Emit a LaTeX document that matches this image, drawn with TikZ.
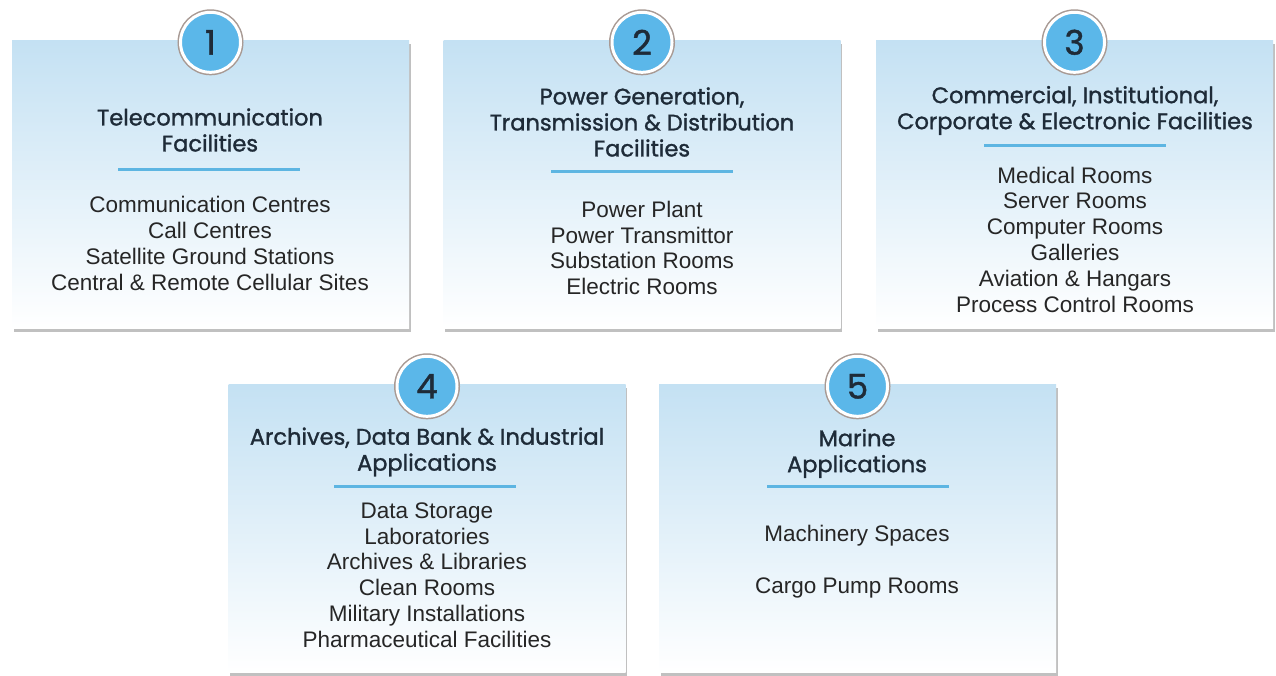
\documentclass[tikz,border=0pt]{standalone}
\usepackage{fontspec}
\setmainfont{Liberation Sans}
\newfontfamily\headfont{Poppins}[FakeBold=1.3]
\usetikzlibrary{positioning,shadows}
\definecolor{boxtop}{HTML}{C4E1F3}
\definecolor{ringblue}{HTML}{5BB7E9}
\definecolor{lineblue}{HTML}{5DB5E2}
\definecolor{headink}{HTML}{1E2B38}
\definecolor{itemink}{HTML}{262626}
\definecolor{ringedge}{HTML}{A89A94}
\tikzset{
  appbox/.style={rectangle, minimum width=397pt, minimum height=288pt,
    top color=boxtop, bottom color=white,
    drop shadow={shadow xshift=1.5pt, shadow yshift=-3pt, opacity=.35, fill=black!70}},
  badge/.style={circle, minimum size=60pt, inner sep=0pt, fill=ringblue,
    draw=white, line width=3pt, preaction={draw=ringedge, line width=6pt},
    text=headink, font=\headfont\fontsize{34}{34}\selectfont},
  heading/.style={align=center, text=headink, font=\headfont\fontsize{22.5}{26}\selectfont},
  items/.style={align=center, text=itemink, font=\fontsize{22.5}{25.8}\selectfont},
  divider/.style={draw=lineblue, line width=3pt}
}
\begin{document}
\begin{tikzpicture}[x=1pt,y=-1pt]
\fill[white] (0,0) rectangle (1276,675);
\useasboundingbox (0,0) rectangle (1276,675);

% the five cards
\node[appbox] (B1) at (210.5,184.5) {};
\node[appbox] (B2) at (642,184.5) {};
\node[appbox] (B3) at (1074.5,184.5) {};
\node[appbox] (B4) at (427,528.5) {};
\node[appbox] (B5) at (857.5,528.5) {};

% numbered badges
\foreach \n in {1,...,5}
{\node[badge] (N\n) at ([yshift=-2pt]B\n.north) {\n};}

% blue rules under the headings
\foreach \x/\y in {209/169, 642/171, 1075/145, 425/486, 858/486}
{\draw[divider] (\x-91,\y) -- (\x+91,\y);}

\node[heading] (T1) at (210,130) {Telecommunication\\Facilities};
\node[items] (L1) at (210,243.5) {Communication Centres\\Call Centres\\
  Satellite Ground Stations\\Central \& Remote Cellular Sites};

\node[heading] (T2) at (642,122) {Power Generation,\\
  Transmission \& Distribution\\Facilities};
\node[items] (L2) at (642,248) {Power Plant\\Power Transmittor\\
  Substation Rooms\\Electric Rooms};

\node[heading] (T3) at (1075,110.5) {Commercial, Institutional,\\
  Corporate \& Electronic Facilities};
\node[items] (L3) at (1075,239.5) {Medical Rooms\\Server Rooms\\Computer Rooms\\
  Galleries\\Aviation \& Hangars\\Process Control Rooms};

\node[heading] (T4) at (427,452) {Archives, Data Bank \& Industrial\\Applications};
\node[items] (L4) at (427,575) {Data Storage\\Laboratories\\Archives \& Libraries\\
  Clean Rooms\\Military Installations\\Pharmaceutical Facilities};

\node[heading] (T5) at (857,453.5) {Marine\\Applications};
\node[items] (L5) at (857,562) {Machinery Spaces\\[26pt]Cargo Pump Rooms};
\end{tikzpicture}
\end{document}
